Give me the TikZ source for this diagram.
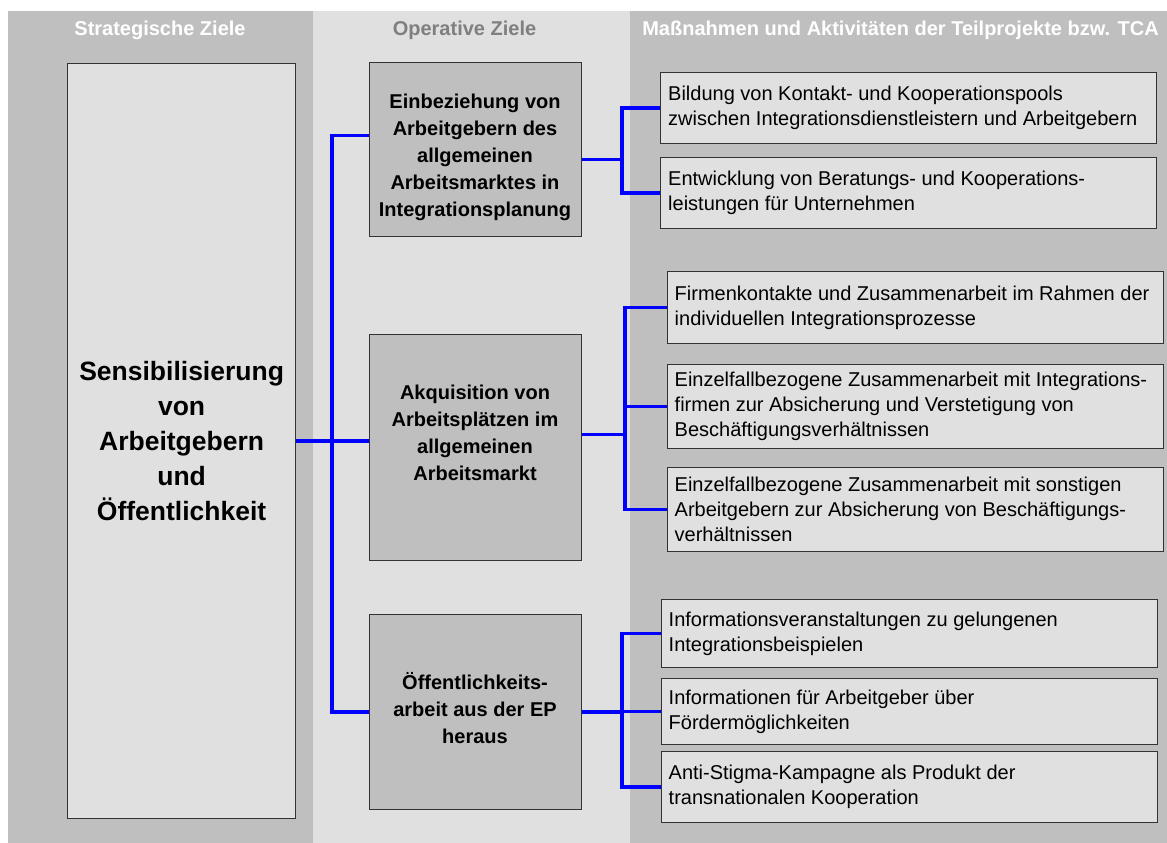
\documentclass[tikz,border=0pt]{standalone}
\usepackage{fontspec}
\setmainfont{Liberation Sans}
\definecolor{darkbg}{HTML}{BFBFBF}
\definecolor{lightbg}{HTML}{E0E0E0}
\definecolor{hdrgray}{HTML}{7F7F7F}
\definecolor{edgegray}{HTML}{333333}
\definecolor{linkblue}{HTML}{0000FF}
\begin{document}
\begin{tikzpicture}[x=1pt,y=-1pt,
  hdr/.style={font=\fontsize{20}{24}\selectfont\bfseries, inner sep=0pt},
  bigbox/.style={draw=edgegray, line width=1.2pt, fill=lightbg, anchor=north west, inner sep=0pt, align=center,
    font=\fontsize{26.5}{35}\selectfont\bfseries},
  midbox/.style={draw=edgegray, line width=1.2pt, fill=darkbg, anchor=north west, inner sep=0pt, minimum width=212pt},
  midtext/.style={align=center, inner sep=0pt, font=\fontsize{20}{27}\selectfont\bfseries},
  actbox/.style={draw=edgegray, line width=1.2pt, fill=lightbg, anchor=north west, inner sep=0pt, minimum width=496pt},
  acttext/.style={align=left, anchor=west, inner sep=0pt, font=\fontsize{20}{25}\selectfont},
  conn/.style={draw=linkblue, line width=3.3pt, line join=miter}
]
\useasboundingbox (0,0) rectangle (1167,843);
% column backgrounds
\fill[darkbg] (8,11) rectangle (313,843);
\fill[lightbg] (313,11) rectangle (630,843);
\fill[darkbg] (630,11) rectangle (1167,843);
% headers
\node[hdr, text=white] (h1) at (160,30) {Strategische Ziele};
\node[hdr, text=hdrgray] (h2) at (464.5,30) {Operative Ziele};
\node[hdr, text=white] (h3) at (900.5,30) {Maßnahmen und Aktivitäten der Teilprojekte bzw. TCA};
% strategic goal
\node[bigbox, minimum width=228pt, minimum height=755pt] (L) at (67,63)
  {Sensibilisierung\\von\\Arbeitgebern\\und\\Öffentlichkeit};
% operative goals
\node[midbox, minimum height=174pt] (M1) at (369,62) {};
\node[midtext] (M1t) at (475,157.5) {Einbeziehung von\\Arbeitgebern des\\allgemeinen\\Arbeitsmarktes in\\Integrationsplanung};
\node[midbox, minimum height=226pt] (M2) at (369,334) {};
\node[midtext] (M2t) at (475,433) {Akquisition von\\Arbeitsplätzen im\\allgemeinen\\Arbeitsmarkt};
\node[midbox, minimum height=195pt] (M3) at (369,614) {};
\node[midtext] (M3t) at (475,708) {Öffentlichkeits-\\arbeit aus der EP\\heraus};
% activities
\node[actbox, minimum height=71pt] (R1) at (660,72) {};
\node[acttext] (R1t) at ([xshift=8pt]R1.west) {Bildung von Kontakt- und Kooperationspools\\zwischen Integrationsdienstleistern und Arbeitgebern};
\node[actbox, minimum height=71pt] (R2) at (660,157) {};
\node[acttext] (R2t) at ([xshift=8pt]R2.west) {Entwicklung von Beratungs- und Kooperations-\\leistungen für Unternehmen};
\node[actbox, minimum height=72pt] (R3) at (667,271) {};
\node[acttext] (R3t) at ([xshift=7.5pt]R3.west) {Firmenkontakte und Zusammenarbeit im Rahmen der\\individuellen Integrationsprozesse};
\node[actbox, minimum height=84pt] (R4) at (667,364) {};
\node[acttext] (R4t) at ([xshift=7.5pt]R4.west) {Einzelfallbezogene Zusammenarbeit mit Integrations-\\firmen zur Absicherung und Verstetigung von\\Beschäftigungsverhältnissen};
\node[actbox, minimum height=84pt] (R5) at (667,467) {};
\node[acttext] (R5t) at ([xshift=7.5pt]R5.west) {Einzelfallbezogene Zusammenarbeit mit sonstigen\\Arbeitgebern zur Absicherung von Beschäftigungs-\\verhältnissen};
\node[actbox, minimum height=68pt] (R6) at (661,599) {};
\node[acttext] (R6t) at ([xshift=7.5pt]R6.west) {Informationsveranstaltungen zu gelungenen\\Integrationsbeispielen};
\node[actbox, minimum height=66pt] (R7) at (661,678) {};
\node[acttext] (R7t) at ([xshift=7.5pt]R7.west) {Informationen für Arbeitgeber über\\Fördermöglichkeiten};
\node[actbox, minimum height=71pt] (R8) at (661,751) {};
\node[acttext] (R8t) at ([xshift=7.5pt]R8.west) {Anti-Stigma-Kampagne als Produkt der\\transnationalen Kooperation};
% bus coordinates
\coordinate (bL) at (332,0);
\coordinate (b1) at (622,0);
\coordinate (b2) at (625,0);
\coordinate (b3) at (622,0);
% connectors: strategic -> operative
\draw[conn] (L.east) -- (L.east -| M2.west);
\draw[conn] ([yshift=14pt]M1.west) -| (bL |- M3.west) -- (M3.west);
% operative 1 -> activities
\draw[conn] ([yshift=-10pt]M1.east) -- ([yshift=-10pt]M1.east -| b1);
\draw[conn] (R1.west) -| (b1 |- R2.west) -- (R2.west);
% operative 2 -> activities
\draw[conn] ([yshift=13pt]M2.east) -- ([yshift=13pt]M2.east -| b2);
\draw[conn] (R3.west) -| (b2 |- R5.west) -- (R5.west);
\draw[conn] (R4.west) -- (R4.west -| b2);
% operative 3 -> activities
\draw[conn] (M3.east) -- (M3.east -| b3);
\draw[conn] (R6.west) -| (b3 |- R8.west) -- (R8.west);
\draw[conn] (R7.west) -- (R7.west -| b3);
\end{tikzpicture}
\end{document}
